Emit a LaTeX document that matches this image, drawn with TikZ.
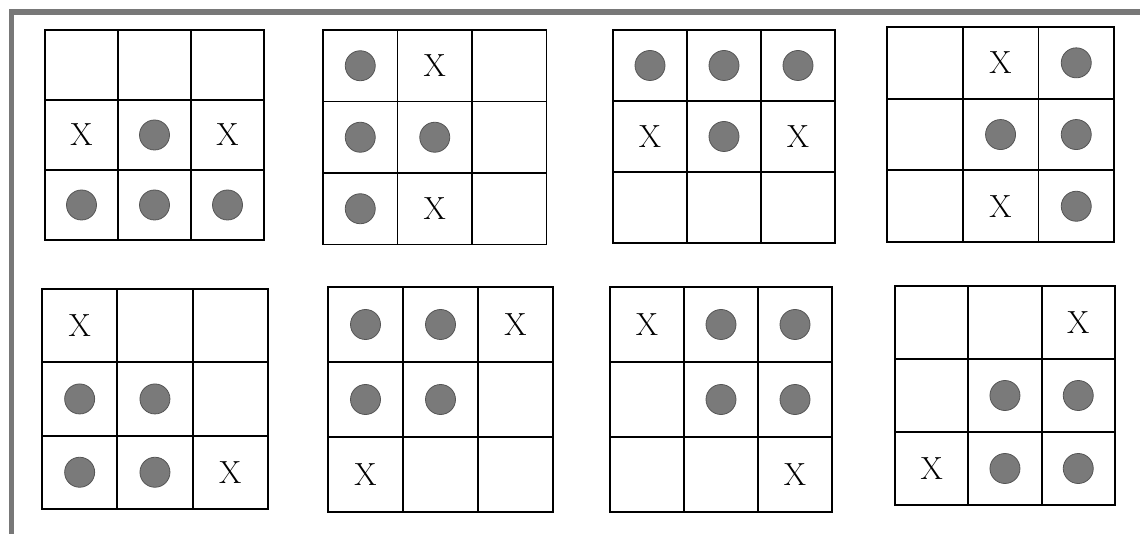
\documentclass[tikz,border=0pt]{standalone}
\usepackage{fontspec}
\begin{document}
\begin{tikzpicture}[x=1pt,y=-1pt,
  gridline/.style={line width=1.8pt, draw=black},
  framebar/.style={fill={rgb,255:red,120;green,120;blue,120}, draw=none},
  stone/.style={circle, minimum size=30pt, inner sep=0pt,
    fill={rgb,255:red,122;green,122;blue,122}, draw={rgb,255:red,85;green,85;blue,85}, line width=0.8pt},
  xmark/.style={inner sep=0pt, font=\fontsize{32}{32}\selectfont}]
\useasboundingbox (0,0) rectangle (1140,534);
\fill[white] (0,0) rectangle (1140,534);
% frame of the scan
\fill[framebar] (9,9) rectangle (1140,15);
\fill[framebar] (9,9) rectangle (14,534);
\newcommand\tttgrid[7]{%
  \draw[gridline] (#2,#3) rectangle ++({3*#4},{3*#5});
  \foreach \k in {1,2}{
    \draw[gridline] ({#2+\k*#4},#3) -- ({#2+\k*#4},{#3+3*#5});
    \draw[gridline] (#2,{#3+\k*#5}) -- ({#2+3*#4},{#3+\k*#5});
  }
  \foreach \r/\c in {#6}{
    \node[stone] (#1-o\r\c) at ({#2+(\c-0.5)*#4},{#3+(\r-0.5)*#5}) {};
  }
  \foreach \r/\c in {#7}{
    \node[xmark] (#1-x\r\c) at ({#2+(\c-0.5)*#4},{#3+(\r-0.5)*#5}) {X};
  }
}
\tttgrid{g1}{45}{30}{73}{70}{2/2,3/1,3/2,3/3}{2/1,2/3}
\tttgrid{g2}{323}{30}{74.5}{71.5}{1/1,2/1,2/2,3/1}{1/2,3/2}
\tttgrid{g3}{613}{30}{74}{71}{1/1,1/2,1/3,2/2}{2/1,2/3}
\tttgrid{g4}{887}{27}{75.7}{71.7}{1/3,2/2,2/3,3/3}{1/2,3/2}
\tttgrid{g5}{42}{289}{75.3}{73.3}{2/1,2/2,3/1,3/2}{1/1,3/3}
\tttgrid{g6}{328}{287}{75}{75}{1/1,1/2,2/1,2/2}{1/3,3/1}
\tttgrid{g7}{610}{287}{74}{75}{1/2,1/3,2/2,2/3}{1/1,3/3}
\tttgrid{g8}{895}{286}{73.3}{73}{2/2,2/3,3/2,3/3}{1/3,3/1}
\end{tikzpicture}
\end{document}
